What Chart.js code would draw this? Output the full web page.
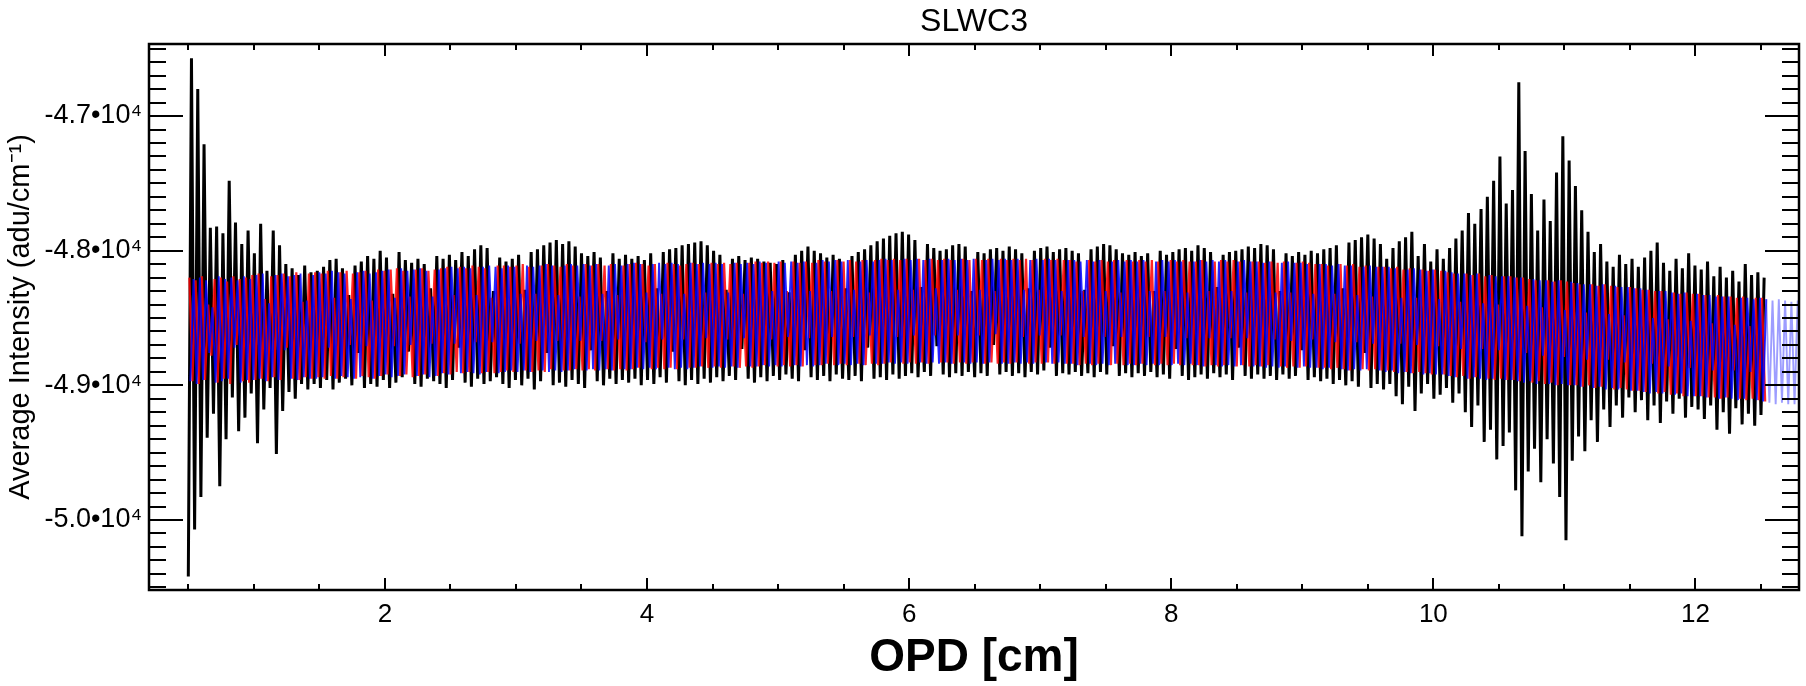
<!DOCTYPE html>
<html>
<head>
<meta charset="utf-8">
<script src="https://cdn.jsdelivr.net/npm/chart.js@4.4.1/dist/chart.umd.min.js"></script>
<style>
  html, body { margin: 0; padding: 0; background: #fff; }
  #wrap { width: 1806px; height: 686px; }
</style>
</head>
<body>
<div id="wrap"><canvas id="chart" width="1806" height="686"></canvas></div>
<script>
// ============================================================
// SLWC3 interferogram
// ============================================================

const TITLE = 'SLWC3';
const X_TITLE = 'OPD [cm]';
const Y_TITLE = 'Average Intensity (adu/cm\u207B\u00B9)';

const X_MIN = 0.2;
const X_MAX = 12.79;
const Y_MIN = -50520;
const Y_MAX = -46465;

const X_MAJOR = [2, 4, 6, 8, 10, 12];
const X_MINOR = [0.5, 1, 1.5, 2.5, 3, 3.5, 4.5, 5, 5.5, 6.5, 7, 7.5, 8.5, 9, 9.5, 10.5, 11, 11.5, 12.5];
const Y_MAJOR = [-47000, -48000, -49000, -50000];
const Y_MINOR = [-46500, -46600, -46700, -46800, -46900, -47100, -47200, -47300, -47400, -47500,
  -47600, -47700, -47800, -47900, -48100, -48200, -48300, -48400, -48500, -48600, -48700, -48800,
  -48900, -49100, -49200, -49300, -49400, -49500, -49600, -49700, -49800, -49900, -50100, -50200,
  -50300, -50400, -50500];

// uniform OPD sampling, each trace starts at its own offset
const OPD_STEP = 0.024;
const BLACK_OPD0 = 0.5;
const RED_OPD0 = 0.508;
const BLUE_OPD0 = 0.516;
const BLUE_FADE_FROM = 12.53;

// measured interferogram (black)
const BLACK_Y = [
  -50420,-46570,-50070,-46800,-49830,-47210,-49390,-47830,-49210,-47820,-49750,-47870,-49400,-47480,-49090,-47790,-49340,-47950,-49240,-47850,
  -49060,-48020,-49430,-47800,-49180,-48150,-49020,-47850,-49510,-47960,-49190,-48100,-49050,-48130,-49100,-48180,-48990,-48110,-49030,-48160,
  -48990,-48150,-49020,-48120,-48960,-48070,-49030,-48060,-48980,-48130,-48950,-48330,-49000,-48110,-48760,-48080,-49020,-48040,-48990,-48060,
  -49010,-48000,-48960,-48050,-49020,-48320,-48980,-48010,-48940,-48070,-48750,-48090,-48990,-48060,-49010,-48100,-48950,-48280,-48970,-48040,
  -48990,-48060,-49020,-48030,-48960,-48070,-48720,-48010,-48980,-48040,-49010,-47990,-48950,-47960,-48990,-47980,-48970,-48300,-48940,-48050,
  -48990,-48080,-49020,-48060,-48960,-48030,-49000,-48290,-48950,-48010,-49030,-47990,-48970,-47960,-48760,-47940,-49000,-47920,-48980,-47950,
  -49010,-47930,-48960,-47970,-48990,-48020,-49020,-48040,-48740,-48010,-48970,-48050,-49000,-48300,-48950,-48020,-48990,-48060,-48960,-48030,
  -48980,-48060,-48950,-48040,-49000,-48070,-48960,-48020,-48990,-48280,-48940,-48010,-48980,-47990,-48750,-47980,-48970,-47960,-49000,-47950,
  -48960,-47940,-48990,-47930,-48950,-47960,-48980,-48000,-48940,-48030,-48970,-48290,-48930,-48060,-48960,-48040,-48730,-48070,-48950,-48050,
  -48980,-48060,-48940,-48080,-48970,-48090,-48930,-48100,-48960,-48070,-48920,-48310,-48950,-48030,-48970,-48000,-48740,-47970,-48940,-48000,
  -48960,-48020,-48930,-48050,-48970,-48030,-48920,-48060,-48950,-48280,-48960,-48040,-48930,-48010,-48970,-47990,-48720,-47960,-48950,-47930,
  -48940,-47910,-48960,-47890,-48920,-47870,-48950,-47860,-48930,-47880,-48910,-47920,-48940,-48270,-48900,-47950,-48930,-47980,-48710,-48000,
  -48920,-47990,-48940,-47960,-48910,-47950,-48930,-47970,-48900,-48300,-48940,-48010,-48910,-48020,-48930,-47990,-48700,-47980,-48920,-48000,
  -48900,-47970,-48930,-47990,-48910,-48020,-48940,-48280,-48900,-48000,-48920,-47980,-48890,-47970,-48720,-48010,-48930,-47990,-48910,-47980,
  -48920,-48000,-48900,-48020,-48930,-48290,-48910,-47990,-48940,-47970,-48900,-47950,-48920,-47960,-48710,-47990,-48930,-48020,-48910,-48030,
  -48940,-48010,-48910,-48040,-48930,-48020,-48900,-48300,-48940,-48000,-48920,-48030,-48950,-48010,-48730,-47990,-48930,-47980,-48960,-48000,
  -48940,-47960,-48920,-47980,-48950,-48010,-48910,-48270,-48940,-48030,-48920,-48010,-48960,-48000,-48720,-47990,-48930,-47970,-48950,-47980,
  -48920,-47950,-48950,-47960,-48930,-47990,-48960,-48300,-48920,-48020,-48950,-48040,-48930,-48010,-48740,-48030,-48960,-48000,-48940,-48020,
  -48970,-47990,-48950,-47980,-48990,-47960,-48960,-48280,-49000,-47940,-48970,-47920,-49010,-47900,-48760,-47880,-49020,-47910,-48990,-47950,
  -49030,-48060,-48990,-47980,-49080,-47930,-49140,-47900,-49010,-47860,-49190,-48040,-49060,-47950,-48990,-48080,-49100,-47990,-49070,-48060,
  -49020,-47980,-49130,-47910,-49060,-47850,-49200,-47720,-49310,-47800,-49150,-47690,-49420,-47600,-49330,-47480,-49550,-47300,-49450,-47650,
  -49350,-47550,-49780,-46750,-50120,-47260,-49640,-47580,-49470,-47850,-49720,-47620,-49400,-47780,-49580,-47420,-49830,-47150,-50150,-47330,
  -49560,-47520,-49380,-47700,-49490,-47860,-49260,-48010,-49420,-47950,-49180,-48080,-49310,-48120,-49150,-48030,-49240,-48100,-49090,-48060,
  -49200,-48120,-49110,-48050,-49260,-48000,-49150,-47940,-49280,-48090,-49120,-48150,-49210,-48060,-49100,-48130,-49240,-48020,-49160,-48110,
  -49180,-48140,-49250,-48080,-49150,-48190,-49330,-48120,-49200,-48200,-49360,-48150,-49170,-48230,-49290,-48100,-49210,-48180,-49300,-48160,
  -49220,-48200
];

// first model (red)
const RED_Y = [
  -48200,-48970,-48220,-48990,-48190,-48960,-48400,-48780,-48210,-48980,-48200,-48950,-48230,-48990,-48190,-48700,-48210,-48970,-48200,-48980,
  -48180,-48960,-48170,-48950,-48360,-48970,-48190,-48940,-48180,-48960,-48170,-48720,-48190,-48950,-48160,-48960,-48380,-48940,-48170,-48950,
  -48160,-48940,-48170,-48950,-48150,-48930,-48350,-48950,-48160,-48940,-48150,-48700,-48170,-48950,-48160,-48930,-48150,-48940,-48370,-48950,
  -48140,-48930,-48150,-48920,-48140,-48710,-48130,-48930,-48150,-48920,-48340,-48940,-48140,-48930,-48130,-48920,-48150,-48690,-48140,-48930,
  -48130,-48910,-48120,-48920,-48330,-48900,-48120,-48910,-48130,-48900,-48110,-48680,-48120,-48910,-48130,-48900,-48350,-48910,-48110,-48900,
  -48110,-48890,-48120,-48900,-48110,-48690,-48100,-48890,-48120,-48900,-48320,-48890,-48110,-48900,-48100,-48880,-48110,-48670,-48120,-48890,
  -48100,-48890,-48110,-48880,-48340,-48890,-48100,-48880,-48110,-48890,-48100,-48670,-48110,-48880,-48100,-48890,-48330,-48880,-48110,-48890,
  -48100,-48880,-48090,-48870,-48100,-48680,-48110,-48880,-48100,-48870,-48320,-48880,-48090,-48870,-48100,-48880,-48110,-48660,-48100,-48870,
  -48090,-48870,-48100,-48860,-48310,-48870,-48090,-48860,-48100,-48870,-48090,-48660,-48100,-48860,-48090,-48870,-48320,-48860,-48090,-48870,
  -48080,-48860,-48090,-48850,-48080,-48660,-48090,-48860,-48080,-48850,-48300,-48860,-48080,-48850,-48090,-48860,-48080,-48650,-48090,-48850,
  -48070,-48850,-48080,-48840,-48300,-48850,-48070,-48840,-48080,-48850,-48070,-48640,-48080,-48840,-48070,-48850,-48310,-48840,-48070,-48850,
  -48060,-48840,-48070,-48830,-48060,-48640,-48070,-48840,-48060,-48830,-48290,-48840,-48060,-48830,-48070,-48840,-48060,-48630,-48070,-48830,
  -48060,-48830,-48070,-48840,-48290,-48830,-48060,-48840,-48070,-48830,-48060,-48630,-48070,-48840,-48060,-48830,-48300,-48840,-48060,-48830,
  -48070,-48840,-48060,-48830,-48070,-48640,-48060,-48840,-48070,-48830,-48290,-48840,-48060,-48830,-48070,-48840,-48060,-48630,-48070,-48840,
  -48070,-48840,-48080,-48850,-48300,-48840,-48070,-48850,-48080,-48840,-48070,-48640,-48080,-48850,-48070,-48840,-48310,-48850,-48070,-48840,
  -48080,-48850,-48070,-48840,-48080,-48640,-48070,-48850,-48080,-48840,-48300,-48850,-48070,-48840,-48080,-48850,-48070,-48650,-48080,-48850,
  -48080,-48850,-48070,-48860,-48300,-48850,-48080,-48860,-48070,-48850,-48080,-48650,-48070,-48860,-48080,-48850,-48310,-48860,-48080,-48850,
  -48080,-48860,-48090,-48850,-48080,-48660,-48090,-48860,-48080,-48870,-48310,-48860,-48090,-48870,-48080,-48860,-48090,-48660,-48100,-48870,
  -48100,-48870,-48110,-48880,-48320,-48870,-48100,-48880,-48110,-48890,-48100,-48680,-48120,-48880,-48110,-48890,-48340,-48880,-48120,-48890,
  -48120,-48890,-48130,-48900,-48120,-48690,-48140,-48900,-48130,-48910,-48350,-48900,-48140,-48910,-48150,-48920,-48140,-48710,-48150,-48920,
  -48160,-48930,-48170,-48940,-48380,-48930,-48170,-48950,-48180,-48940,-48170,-48730,-48190,-48950,-48180,-48960,-48400,-48950,-48190,-48960,
  -48190,-48960,-48200,-48970,-48200,-48760,-48210,-48980,-48220,-48970,-48420,-48990,-48220,-48980,-48230,-49000,-48220,-48790,-48230,-49000,
  -48240,-49000,-48250,-49010,-48460,-49000,-48250,-49020,-48260,-49010,-48250,-48810,-48260,-49030,-48270,-49020,-48480,-49030,-48270,-49040,
  -48280,-49040,-48290,-49050,-48290,-48840,-48300,-49060,-48300,-49050,-48510,-49070,-48310,-49060,-48320,-49080,-48310,-48870,-48320,-49080,
  -48320,-49080,-48330,-49090,-48540,-49090,-48330,-49100,-48340,-49090,-48340,-48890,-48350,-49100,-48340,-49110,-48560,-49100,-48350,-49110,
  -48350,-49120
];

// second model (blue), runs past the end of the measured trace
const BLUE_Y = [
  -48970,-48210,-48990,-48200,-48960,-48220,-48760,-48420,-48980,-48190,-48970,-48210,-48950,-48200,-48720,-48220,-48980,-48190,-48960,-48210,
  -48960,-48180,-48950,-48170,-48970,-48390,-48940,-48180,-48960,-48170,-48740,-48190,-48950,-48180,-48960,-48170,-48940,-48370,-48950,-48180,
  -48950,-48160,-48940,-48170,-48720,-48150,-48950,-48160,-48930,-48170,-48940,-48360,-48950,-48160,-48940,-48150,-48710,-48170,-48950,-48160,
  -48930,-48150,-48920,-48140,-48940,-48350,-48930,-48130,-48920,-48150,-48700,-48140,-48930,-48130,-48920,-48150,-48940,-48340,-48930,-48140,
  -48910,-48130,-48920,-48120,-48690,-48130,-48910,-48120,-48900,-48130,-48910,-48330,-48920,-48120,-48900,-48110,-48680,-48120,-48910,-48130,
  -48900,-48110,-48890,-48120,-48900,-48320,-48890,-48110,-48900,-48120,-48670,-48110,-48890,-48100,-48900,-48110,-48890,-48330,-48900,-48110,
  -48890,-48100,-48880,-48110,-48670,-48100,-48890,-48110,-48880,-48100,-48890,-48320,-48880,-48110,-48890,-48100,-48660,-48110,-48880,-48100,
  -48880,-48090,-48870,-48100,-48880,-48310,-48870,-48100,-48880,-48090,-48660,-48100,-48870,-48090,-48880,-48100,-48870,-48320,-48880,-48090,
  -48870,-48100,-48860,-48090,-48650,-48100,-48870,-48090,-48860,-48100,-48870,-48310,-48860,-48090,-48870,-48100,-48650,-48090,-48860,-48100,
  -48860,-48080,-48850,-48090,-48860,-48300,-48850,-48080,-48860,-48090,-48640,-48080,-48850,-48090,-48860,-48080,-48850,-48300,-48860,-48090,
  -48850,-48070,-48840,-48080,-48640,-48070,-48850,-48080,-48840,-48070,-48850,-48290,-48840,-48080,-48850,-48070,-48630,-48080,-48840,-48070,
  -48840,-48060,-48830,-48070,-48840,-48290,-48830,-48060,-48840,-48070,-48630,-48060,-48830,-48070,-48840,-48060,-48830,-48280,-48840,-48070,
  -48830,-48060,-48840,-48070,-48630,-48060,-48830,-48070,-48840,-48060,-48830,-48290,-48840,-48070,-48830,-48060,-48620,-48070,-48840,-48060,
  -48840,-48070,-48830,-48060,-48840,-48290,-48830,-48070,-48840,-48060,-48630,-48070,-48830,-48060,-48840,-48070,-48830,-48300,-48840,-48070,
  -48840,-48070,-48850,-48080,-48640,-48070,-48840,-48080,-48850,-48070,-48840,-48300,-48850,-48080,-48840,-48070,-48640,-48080,-48850,-48070,
  -48850,-48080,-48840,-48070,-48850,-48300,-48840,-48080,-48850,-48070,-48640,-48080,-48850,-48070,-48840,-48080,-48850,-48310,-48840,-48080,
  -48850,-48070,-48860,-48080,-48650,-48070,-48850,-48080,-48860,-48070,-48850,-48300,-48860,-48080,-48850,-48070,-48650,-48080,-48860,-48080,
  -48860,-48090,-48870,-48080,-48860,-48310,-48870,-48090,-48860,-48080,-48670,-48090,-48870,-48090,-48860,-48100,-48870,-48320,-48870,-48100,
  -48880,-48100,-48870,-48110,-48680,-48100,-48880,-48110,-48890,-48110,-48880,-48330,-48890,-48120,-48880,-48110,-48690,-48120,-48890,-48120,
  -48900,-48120,-48890,-48130,-48910,-48350,-48900,-48140,-48910,-48130,-48700,-48140,-48920,-48150,-48910,-48140,-48920,-48360,-48920,-48150,
  -48930,-48160,-48940,-48170,-48730,-48170,-48950,-48180,-48940,-48170,-48950,-48390,-48960,-48180,-48950,-48190,-48740,-48190,-48960,-48190,
  -48960,-48200,-48970,-48200,-48980,-48410,-48970,-48210,-48990,-48220,-48780,-48220,-48990,-48230,-49000,-48220,-48990,-48440,-49000,-48230,
  -49000,-48240,-49010,-48250,-48810,-48250,-49020,-48260,-49010,-48250,-49030,-48470,-49020,-48260,-49030,-48270,-48830,-48270,-49040,-48280,
  -49040,-48280,-49050,-48290,-49060,-48500,-49050,-48300,-49060,-48300,-48860,-48310,-49070,-48320,-49060,-48310,-49080,-48520,-49080,-48320,
  -49080,-48330,-49090,-48330,-48890,-48340,-49100,-48340,-49090,-48340,-49100,-48550,-49110,-48350,-49100,-48350,-48900,-48360,-49110,-48350,
  -49120,-48360,-49130,-48370,-49140,-48360,-49130,-48370,-49140,-48380,-49140,-48370
];

// ============================================================
// CHART
// ============================================================

Chart.defaults.font.family = '"Liberation Sans", Arial, sans-serif';
Chart.defaults.color = '#000';

const toPoints = (ys, opd0) => ys.map((y, i) => ({ x: opd0 + i * OPD_STEP, y }));

const fmtY = (v) => (v / 10000).toFixed(1) + '\u202210\u2074';

// box round the plot with inward ticks on all four sides (IDL style)
const frameTicks = {
  id: 'frameTicks',
  afterDatasetsDraw(chart) {
    const { ctx, chartArea: a, scales: { x, y } } = chart;
    ctx.save();
    ctx.strokeStyle = '#000';
    ctx.lineWidth = 2;
    ctx.beginPath();
    const xTick = (v, len) => {
      const px = Math.round(x.getPixelForValue(v));
      ctx.moveTo(px, a.bottom); ctx.lineTo(px, a.bottom - len);
      ctx.moveTo(px, a.top); ctx.lineTo(px, a.top + len);
    };
    const yTick = (v, len) => {
      const py = Math.round(y.getPixelForValue(v));
      ctx.moveTo(a.left, py); ctx.lineTo(a.left + len, py);
      ctx.moveTo(a.right, py); ctx.lineTo(a.right - len, py);
    };
    X_MAJOR.forEach(v => xTick(v, 12));
    X_MINOR.forEach(v => xTick(v, 6));
    Y_MAJOR.forEach(v => yTick(v, 34));
    Y_MINOR.forEach(v => yTick(v, 17));
    ctx.stroke();
    ctx.lineWidth = 2.5;
    ctx.strokeRect(a.left, a.top, a.right - a.left, a.bottom - a.top);
    ctx.restore();
  }
};

new Chart(document.getElementById('chart'), {
  type: 'line',
  data: {
    datasets: [
      {
        label: 'model 2',
        data: toPoints(BLUE_Y, BLUE_OPD0),
        borderColor: 'rgba(0,0,255,0.85)',
        borderWidth: 1.9,
        order: 1,
        segment: {
          borderColor: c => c.p0.parsed.x >= BLUE_FADE_FROM ? 'rgba(60,60,255,0.5)' : undefined
        }
      },
      {
        label: 'model 1',
        data: toPoints(RED_Y, RED_OPD0),
        borderColor: 'rgba(255,0,0,0.85)',
        borderWidth: 2.2,
        order: 2
      },
      {
        label: 'measured',
        data: toPoints(BLACK_Y, BLACK_OPD0),
        borderColor: '#000',
        borderWidth: 3,
        order: 3
      }
    ]
  },
  options: {
    responsive: false,
    animation: false,
    devicePixelRatio: 1,
    parsing: false,
    normalized: true,
    elements: {
      point: { radius: 0 },
      line: { tension: 0, borderJoinStyle: 'bevel', fill: false }
    },
    layout: { padding: { left: 0, right: 7, top: 0, bottom: 0 } },
    plugins: {
      legend: { display: false },
      tooltip: { enabled: false },
      title: {
        display: true,
        text: TITLE,
        fullSize: false,
        color: '#000',
        font: { size: 32, weight: 'normal' },
        padding: { top: 3, bottom: 2.6 }
      }
    },
    scales: {
      x: {
        type: 'linear',
        min: X_MIN,
        max: X_MAX,
        afterFit: s => { s.height = 96; },
        afterBuildTicks: s => { s.ticks = X_MAJOR.map(v => ({ value: v })); },
        grid: { display: false, drawTicks: false },
        border: { display: false },
        ticks: { font: { size: 26 }, color: '#000', padding: 9, maxRotation: 0, callback: v => String(v) },
        title: {
          display: true,
          text: X_TITLE,
          color: '#000',
          font: { size: 46, weight: 'bold' },
          padding: { top: 0, bottom: 0 }
        }
      },
      y: {
        type: 'linear',
        min: Y_MIN,
        max: Y_MAX,
        afterFit: s => { s.width = 149; },
        afterBuildTicks: s => { s.ticks = Y_MAJOR.map(v => ({ value: v })); },
        grid: { display: false, drawTicks: false },
        border: { display: false },
        ticks: { font: { size: 27 }, color: '#000', padding: 7, callback: fmtY },
        title: {
          display: true,
          text: Y_TITLE,
          color: '#000',
          font: { size: 29 },
          padding: { top: 4, bottom: 0 }
        }
      }
    }
  },
  plugins: [frameTicks]
});
</script>
</body>
</html>
